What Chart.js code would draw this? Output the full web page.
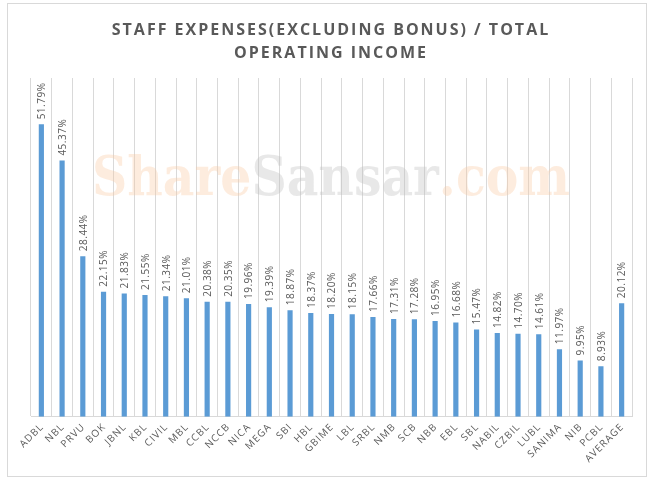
<!DOCTYPE html>
<html><head><meta charset="utf-8">
<script src="https://cdn.jsdelivr.net/npm/chart.js@4"></script>
<style>
html,body{margin:0;padding:0;background:#fff;}
#wrap{position:absolute;left:7px;top:3px;width:640px;height:474px;border:1px solid #d9d9d9;box-sizing:border-box;}
canvas{position:absolute;left:0;top:0;}
</style></head><body>
<div id="wrap"></div>
<canvas id="c" width="658" height="489"></canvas>
<script>
const categories=["ADBL","NBL","PRVU","BOK","JBNL","KBL","CIVIL","MBL","CCBL","NCCB","NICA","MEGA","SBI","HBL","GBIME","LBL","SRBL","NMB","SCB","NBB","EBL","SBL","NABIL","CZBIL","LUBL","SANIMA","NIB","PCBL","AVERAGE"];
const values=[51.79,45.37,28.44,22.15,21.83,21.55,21.34,21.01,20.38,20.35,19.96,19.39,18.87,18.37,18.20,18.15,17.66,17.31,17.28,16.95,16.68,15.47,14.82,14.70,14.61,11.97,9.95,8.93,20.12];
const titleLines=["STAFF EXPENSES(EXCLUDING BONUS) / TOTAL","OPERATING INCOME"];

const labelPlugin={id:'lbl',
 beforeDatasetsDraw(chart){
  const ctx=chart.ctx;ctx.save();
  ctx.fillStyle='#595959';ctx.textAlign='center';ctx.textBaseline='middle';
  ctx.font='bold 16px "Open Sans", sans-serif';
  ctx.letterSpacing='2px';
  ctx.fillText(titleLines[0],331,30);ctx.fillText(titleLines[1],331,53);
  ctx.letterSpacing='0px';
  ctx.font='bold 54px "DejaVu Serif", serif';
  ctx.textBaseline='alphabetic';ctx.textAlign='left';
  const parts=[['Share','rgba(250,200,160,0.35)'],['Sansar','rgba(190,190,190,0.35)'],['.com','rgba(250,200,160,0.35)']];
  let tot=0;parts.forEach(p=>tot+=ctx.measureText(p[0]).width);
  const sx=478/tot;ctx.translate(92,195);ctx.scale(sx,1);
  let x=0;parts.forEach(p=>{ctx.fillStyle=p[1];ctx.fillText(p[0],x,0);x+=ctx.measureText(p[0]).width;});
  ctx.restore();
 },
 afterDatasetsDraw(chart){
  const ctx=chart.ctx;const meta=chart.getDatasetMeta(0);
  ctx.save();ctx.font='10px "Open Sans", sans-serif';ctx.fillStyle='#595959';
  ctx.letterSpacing='0.5px';
  ctx.textAlign='left';ctx.textBaseline='middle';
  meta.data.forEach((b,i)=>{
   ctx.save();ctx.translate(b.x+1,b.y-5);ctx.rotate(-Math.PI/2);
   ctx.fillText(values[i].toFixed(2)+'%',0,0);ctx.restore();
  });
  ctx.restore();
 }};

new Chart(document.getElementById('c'),{
 type:'bar',
 data:{labels:categories,datasets:[{data:values,backgroundColor:'#5b9bd5',barPercentage:0.25,categoryPercentage:1}]},
 options:{responsive:false,animation:false,
  layout:{padding:{left:31,right:26,top:78,bottom:19}},
  plugins:{legend:{display:false},tooltip:{enabled:false},title:{display:false}},
  scales:{
   x:{grid:{color:'#d9d9d9',offset:true,drawTicks:false},border:{color:'#d9d9d9'},
      ticks:{color:'#595959',font:{family:'"Open Sans", sans-serif',size:10},autoSkip:false,maxRotation:45,minRotation:45,padding:5,
        callback:function(v){return categories[v].split('').join('\u200A');}}},
   y:{display:false,min:0,max:60}
  }}
 ,plugins:[labelPlugin]});
</script></body></html>
